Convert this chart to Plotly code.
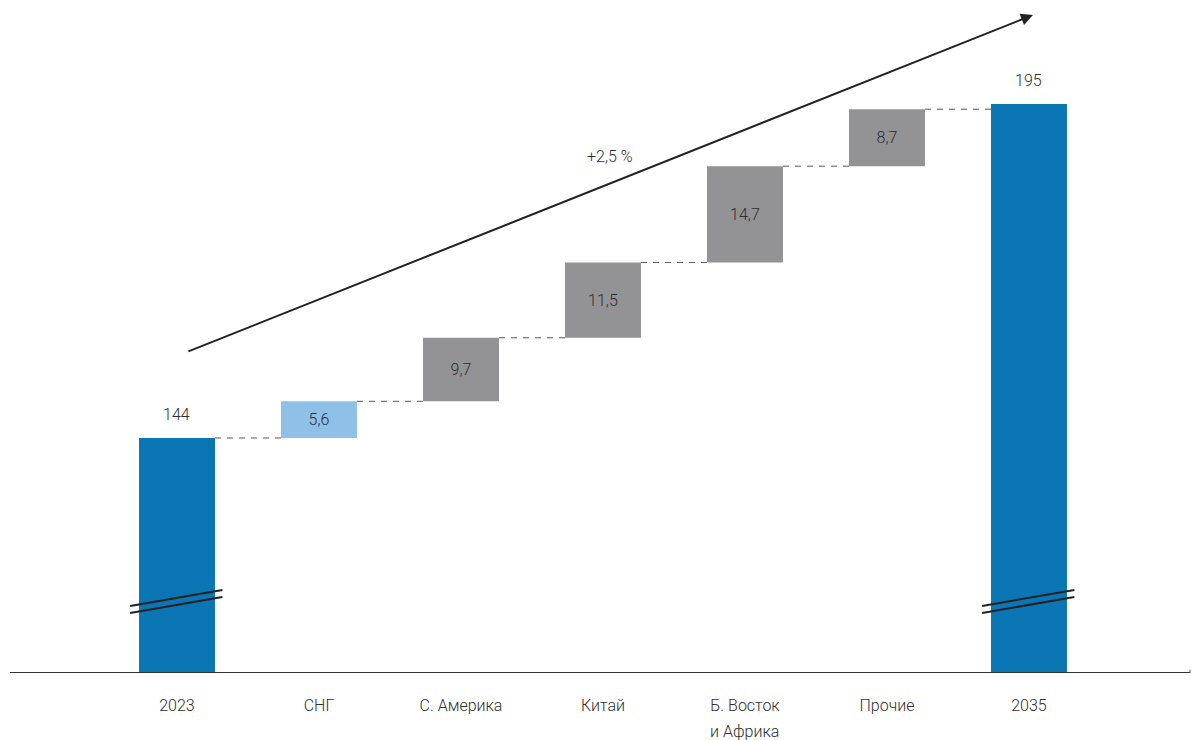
import plotly.graph_objects as go

# Waterfall data: start total, regional contributions, end total
categories = ["2023", "СНГ", "С. Америка", "Китай", "Б. Восток\nи Африка", "Прочие", "2035"]
start_value = 144
deltas = [5.6, 9.7, 11.5, 14.7, 8.7]
end_value = 195
delta_labels = ["5,6", "9,7", "11,5", "14,7", "8,7"]
growth_label = "+2,5 %"

# Axis is broken: totals are drawn from the visible floor of the value axis
AXIS_FLOOR = 108.12
AXIS_TOP = 210.87

C_TOTAL = "#0b76b4"
C_CIS = "#8fc0e8"
C_GREY = "#939396"
TEXT = "#2e2e2e"
FONT = "Roboto"
WEIGHT = 300
BAR_W = 0.535

# cumulative levels
levels = [start_value]
for d in deltas:
    levels.append(levels[-1] + d)

# first line of each category name goes on the axis, a second line (if any) below it
first_lines = [c.split("\n")[0] for c in categories]
second_lines = [(i, c.split("\n")[1]) for i, c in enumerate(categories) if "\n" in c]

font = dict(family=FONT, size=16, color=TEXT, weight=WEIGHT)

fig = go.Figure()

# total bars
fig.add_trace(go.Bar(
    x=[0, len(categories) - 1],
    y=[start_value - AXIS_FLOOR, end_value - AXIS_FLOOR],
    base=[AXIS_FLOOR, AXIS_FLOOR],
    width=BAR_W,
    marker=dict(color=C_TOTAL, line=dict(width=0)),
    hoverinfo="skip",
))

# contribution bars
fig.add_trace(go.Bar(
    x=list(range(1, len(categories) - 1)),
    y=deltas,
    base=levels[:-1],
    width=BAR_W,
    marker=dict(color=[C_CIS] + [C_GREY] * (len(deltas) - 1), line=dict(width=0)),
    text=delta_labels,
    textposition="inside",
    insidetextanchor="middle",
    textangle=0,
    textfont=font,
    cliponaxis=False,
    hoverinfo="skip",
))

shapes = []
# dashed connectors between consecutive bars
for i, lv in enumerate(levels):
    shapes.append(dict(
        type="line", xref="x", yref="y",
        x0=i + BAR_W / 2, x1=i + 1 - BAR_W / 2, y0=lv, y1=lv,
        line=dict(color="#555555", width=1, dash="6px,6px"),
    ))

# axis-break marks on the total bars
for xi in (0, len(categories) - 1):
    for dy in (0, -1.07):
        shapes.append(dict(
            type="line", xref="x", yref="y",
            x0=xi - 0.33, x1=xi + 0.32, y0=118.35 + dy, y1=120.8 + dy,
            line=dict(color="#222222", width=2),
        ))

# baseline and end tick
shapes.append(dict(type="line", xref="paper", yref="y", x0=0, x1=1,
                   y0=AXIS_FLOOR, y1=AXIS_FLOOR, line=dict(color="#333333", width=2)))
shapes.append(dict(type="line", xref="paper", yref="y", x0=1, x1=1,
                   y0=AXIS_FLOOR - 0.5, y1=AXIS_FLOOR + 0.5, line=dict(color="#555555", width=1)))

annotations = [
    # growth arrow
    dict(x=6.028, y=208.58, ax=0.07, ay=157.13, xref="x", yref="y",
         axref="x", ayref="y", text="", showarrow=True, arrowhead=2,
         arrowsize=1.2, arrowwidth=2, arrowcolor="#222222"),
    dict(x=3.05, y=187.05, xref="x", yref="y", text=growth_label, showarrow=False, font=font),
]
# totals labelled above their bars
for xi, v in ((0, start_value), (len(categories) - 1, end_value)):
    annotations.append(dict(x=xi, y=v, xref="x", yref="y", text=str(v), showarrow=False,
                            yanchor="bottom", yshift=12, font=font))
# second lines of category names
for xi, t in second_lines:
    annotations.append(dict(x=xi, y=0, xref="x", yref="paper", text=t, showarrow=False,
                            yanchor="middle", yshift=-58, font=font))

fig.update_layout(
    width=1198, height=740,
    margin=dict(l=10, r=8, t=0, b=67),
    paper_bgcolor="white", plot_bgcolor="white",
    showlegend=False, barmode="overlay",
    shapes=shapes, annotations=annotations,
    xaxis=dict(
        range=[-1.176, 7.134], showgrid=False, zeroline=False, showline=False,
        tickmode="array", tickvals=list(range(len(categories))), ticktext=first_lines,
        ticks="", ticklabelstandoff=21, tickfont=font,
    ),
    yaxis=dict(range=[AXIS_FLOOR, AXIS_TOP], visible=False, showgrid=False, zeroline=False),
)

fig.write_html("out.html")
